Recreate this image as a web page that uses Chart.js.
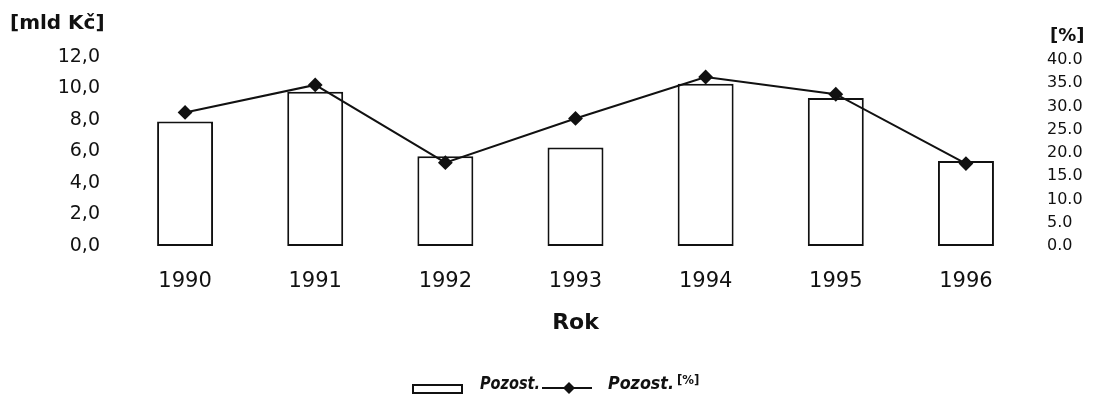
<!DOCTYPE html>
<html>
<head>
<meta charset="utf-8">
<script src="https://cdn.jsdelivr.net/npm/chart.js@4"></script>
<style>
  html, body { margin: 0; padding: 0; background: #fff; }
  #wrap { width: 1096px; height: 402px; }
</style>
</head>
<body>
<div id="wrap"><canvas id="chart" width="1096" height="402"></canvas></div>
<script>
// data
const years = ['1990', '1991', '1992', '1993', '1994', '1995', '1996'];
const pozost = [7.9, 9.8, 5.7, 6.25, 10.3, 9.4, 5.4];          // mld Kč
const pozostPct = [28.7, 34.6, 17.9, 27.4, 36.3, 32.6, 17.7];   // %
const leftTicks = [0, 2, 4, 6, 8, 10, 12];
const rightTicks = [0, 5, 10, 15, 20, 25, 30, 35, 40];

const FONT = '"DejaVu Sans", sans-serif';
const HAND = '"DejaVu Sans Condensed", "DejaVu Sans", sans-serif';

// draw text squeezed to a given width
function fitText(ctx, text, x, y, width) {
  const w = ctx.measureText(text).width;
  ctx.save();
  ctx.translate(x, y);
  ctx.scale(Math.min(1, width / w), 1);
  ctx.fillText(text, 0, 0);
  ctx.restore();
}

// unit labels + hand drawn looking legend
const extras = {
  id: 'extras',
  afterDraw(chart) {
    const ctx = chart.ctx;
    ctx.save();
    ctx.fillStyle = '#111';
    ctx.textBaseline = 'middle';
    ctx.textAlign = 'left';

    ctx.font = 'bold 20px ' + FONT;
    ctx.fillText('[mld Kč]', 10, 24);
    ctx.font = 'bold 18px ' + FONT;
    ctx.fillText('[%]', 1050, 36);

    // legend
    const ds = chart.data.datasets;
    const base = 389;
    ctx.textBaseline = 'alphabetic';
    ctx.strokeStyle = '#111';
    ctx.lineWidth = 2;
    ctx.strokeRect(413, 385, 49, 8);

    ctx.font = 'italic bold 18px ' + HAND;
    fitText(ctx, ds[0].label, 480, base, 60);

    ctx.beginPath();
    ctx.moveTo(542, base - 1);
    ctx.lineTo(592, base - 1);
    ctx.stroke();
    ctx.beginPath();
    ctx.moveTo(569, base - 7);
    ctx.lineTo(575, base - 1);
    ctx.lineTo(569, base + 5);
    ctx.lineTo(563, base - 1);
    ctx.closePath();
    ctx.fill();

    const lbl = ds[1].label.replace('[%]', '');
    fitText(ctx, lbl, 608, base, 66);
    ctx.font = 'bold 13px ' + HAND;
    ctx.fillText('[%]', 677, base - 5);
    ctx.restore();
  }
};

new Chart(document.getElementById('chart'), {
  data: {
    labels: years,
    datasets: [
      {
        type: 'bar',
        label: 'Pozost.',
        data: pozost,
        yAxisID: 'y',
        backgroundColor: '#fff',
        borderColor: '#111',
        borderWidth: 2,
        borderSkipped: false,
        barPercentage: 0.43,
        categoryPercentage: 1,
        order: 1
      },
      {
        type: 'line',
        label: 'Pozost.[%]',
        data: pozostPct,
        yAxisID: 'y1',
        borderColor: '#111',
        borderWidth: 2,
        pointStyle: 'rectRot',
        pointRadius: 6,
        pointBackgroundColor: '#111',
        pointBorderColor: '#111',
        tension: 0,
        order: 0
      }
    ]
  },
  options: {
    responsive: false,
    animation: false,
    devicePixelRatio: 1,
    layout: { padding: { top: 57, left: 0, right: 0, bottom: 0 } },
    plugins: { legend: { display: false }, tooltip: { enabled: false } },
    scales: {
      x: {
        grid: { display: false, drawTicks: false },
        border: { display: false },
        ticks: { color: '#111', font: { family: FONT, size: 21 }, padding: 23 },
        title: {
          display: true,
          text: 'Rok',
          color: '#111',
          font: { family: FONT, size: 22, weight: 'bold' },
          padding: { top: 0, bottom: 66 }
        },
        afterFit: s => { s.height = 156; }
      },
      y: {
        position: 'left',
        min: 0,
        max: 12,
        grid: { display: false, drawTicks: false },
        border: { display: false },
        afterBuildTicks: s => { s.ticks = leftTicks.map(v => ({ value: v })); },
        ticks: {
          color: '#111',
          font: { family: FONT, size: 19 },
          padding: 20,
          callback: v => v.toFixed(1).replace('.', ',')
        },
        afterFit: s => { s.width = 120; }
      },
      y1: {
        position: 'right',
        min: 0,
        max: 40.6,
        grid: { display: false, drawTicks: false },
        border: { display: false },
        afterBuildTicks: s => { s.ticks = rightTicks.map(v => ({ value: v })); },
        ticks: {
          color: '#111',
          font: { family: FONT, size: 16 },
          padding: 16,
          callback: v => v.toFixed(1)
        },
        afterFit: s => { s.width = 65; }
      }
    }
  },
  plugins: [extras]
});
</script>
</body>
</html>
